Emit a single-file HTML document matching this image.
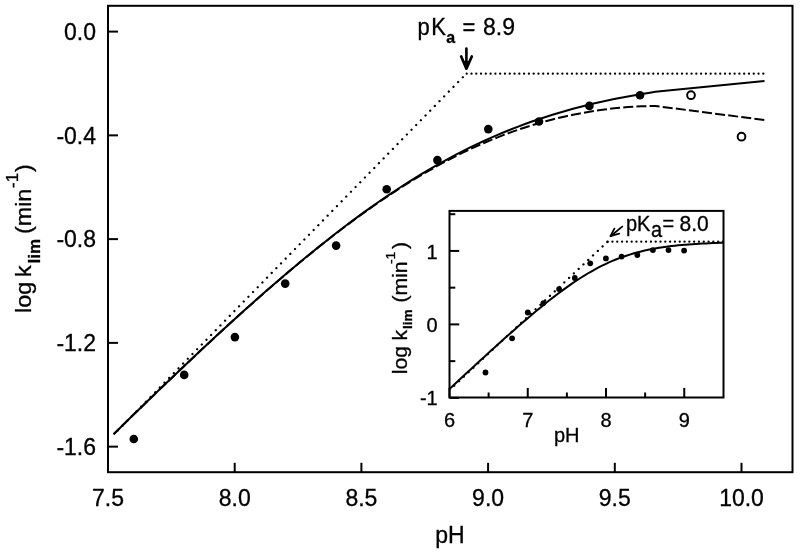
<!DOCTYPE html><html><head><meta charset="utf-8"><style>html,body{margin:0;padding:0;background:#fff;}svg{display:block;filter:grayscale(1) blur(0.3px);}text{font-family:"Liberation Sans",sans-serif;fill:#000;stroke:#000;stroke-width:0.3px;}</style></head><body>
<svg width="800" height="553" viewBox="0 0 800 553">
<rect x="0" y="0" width="800" height="553" fill="#fff"/>
<rect x="108" y="5.8" width="684.5" height="466.4" fill="none" stroke="#000" stroke-width="2"/>
<line x1="108" y1="31.60" x2="118" y2="31.60" stroke="#000" stroke-width="2"/>
<text transform="translate(96.00,39.90) scale(1,1.02)" font-size="23" text-anchor="end">0.0</text>
<line x1="108" y1="135.36" x2="118" y2="135.36" stroke="#000" stroke-width="2"/>
<text transform="translate(96.00,143.66) scale(1,1.02)" font-size="23" text-anchor="end">-0.4</text>
<line x1="108" y1="239.12" x2="118" y2="239.12" stroke="#000" stroke-width="2"/>
<text transform="translate(96.00,247.42) scale(1,1.02)" font-size="23" text-anchor="end">-0.8</text>
<line x1="108" y1="342.88" x2="118" y2="342.88" stroke="#000" stroke-width="2"/>
<text transform="translate(96.00,351.18) scale(1,1.02)" font-size="23" text-anchor="end">-1.2</text>
<line x1="108" y1="446.64" x2="118" y2="446.64" stroke="#000" stroke-width="2"/>
<text transform="translate(96.00,454.94) scale(1,1.02)" font-size="23" text-anchor="end">-1.6</text>
<line x1="108.00" y1="472.2" x2="108.00" y2="462.8" stroke="#000" stroke-width="2"/>
<text transform="translate(108.00,506.00) scale(1,1.02)" font-size="23" text-anchor="middle">7.5</text>
<line x1="234.70" y1="472.2" x2="234.70" y2="462.8" stroke="#000" stroke-width="2"/>
<text transform="translate(234.70,506.00) scale(1,1.02)" font-size="23" text-anchor="middle">8.0</text>
<line x1="361.40" y1="472.2" x2="361.40" y2="462.8" stroke="#000" stroke-width="2"/>
<text transform="translate(361.40,506.00) scale(1,1.02)" font-size="23" text-anchor="middle">8.5</text>
<line x1="488.10" y1="472.2" x2="488.10" y2="462.8" stroke="#000" stroke-width="2"/>
<text transform="translate(488.10,506.00) scale(1,1.02)" font-size="23" text-anchor="middle">9.0</text>
<line x1="614.80" y1="472.2" x2="614.80" y2="462.8" stroke="#000" stroke-width="2"/>
<text transform="translate(614.80,506.00) scale(1,1.02)" font-size="23" text-anchor="middle">9.5</text>
<line x1="741.50" y1="472.2" x2="741.50" y2="462.8" stroke="#000" stroke-width="2"/>
<text transform="translate(741.50,506.00) scale(1,1.02)" font-size="23" text-anchor="middle">10.0</text>
<text transform="translate(450.00,542.80) scale(1,1.02)" font-size="23" text-anchor="middle">pH</text>
<g transform="scale(1,1.06)">
<text transform="translate(31.3,295.28) rotate(-90)" font-size="22">log</text>
<text transform="translate(31.3,261.32) rotate(-90)" font-size="22">k</text>
<text transform="translate(39.8,248.58) rotate(-90)" font-size="16" font-weight="bold">lim</text>
<text transform="translate(31.3,220.75) rotate(-90)" font-size="22">(min</text>
<text transform="translate(17.8,177.36) rotate(-90)" font-size="16">-1</text>
<text transform="translate(31.3,162.26) rotate(-90)" font-size="22">)</text>
</g>
<polyline points="466.30,73.70 113.80,434.55" fill="none" stroke="#000" stroke-width="2.3" stroke-linecap="round" stroke-dasharray="0.01 6.66" stroke-dashoffset="-5.0"/>
<polyline points="466.30,73.70 765.50,73.70" fill="none" stroke="#000" stroke-width="2.3" stroke-linecap="round" stroke-dasharray="0.01 4.774" stroke-dashoffset="-0.4"/>
<polyline points="764.30,120.00 655.34,105.95 648.49,106.08 641.63,106.32 634.77,106.67 627.91,107.12 621.05,107.69 614.20,108.36 607.34,109.15 600.48,110.04 593.62,111.05 586.77,112.16 579.91,113.40 573.05,114.74 566.19,116.20 559.33,117.78 552.48,119.47 545.62,121.28 538.76,123.21 531.90,125.26 525.05,127.43 518.19,129.72 511.33,132.13 504.47,134.66 497.61,137.32 490.76,140.09 483.90,142.99 477.04,146.02 470.18,149.16 463.32,152.43 456.47,155.81 449.61,159.32 442.75,162.95 435.89,166.69 429.04,170.55 422.18,174.53 415.32,178.62 408.46,182.82 401.60,187.13 394.75,191.55 387.89,196.07 381.03,200.70 374.17,205.43 367.31,210.26 360.46,215.18 353.60,220.20 346.74,225.30 339.88,230.50 333.03,235.78 326.17,241.14 319.31,246.58 312.45,252.10 305.59,257.69 298.74,263.35 291.88,269.08 285.02,274.87 278.16,280.73 271.31,286.64 264.45,292.62 257.59,298.65 250.73,304.73 243.87,310.86 237.02,317.04 230.16,323.26 223.30,329.53 216.44,335.84 209.58,342.19 202.73,348.57 195.87,354.99 189.01,361.45 182.15,367.93 175.30,374.45 168.44,380.99 161.58,387.56 154.72,394.16 147.86,400.78 141.01,407.42 134.15,414.09 127.29,420.78 120.43,427.48 113.57,434.20" fill="none" stroke="#000" stroke-width="2" stroke-dasharray="10 3.2" stroke-dashoffset="0"/>
<polyline points="113.57,434.20 120.43,427.48 127.29,420.77 134.15,414.08 141.01,407.42 147.86,400.77 154.72,394.15 161.58,387.55 168.44,380.98 175.30,374.43 182.15,367.91 189.01,361.43 195.87,354.97 202.73,348.55 209.58,342.16 216.44,335.81 223.30,329.50 230.16,323.22 237.02,316.99 243.87,310.81 250.73,304.67 257.59,298.58 264.45,292.55 271.31,286.56 278.16,280.64 285.02,274.77 291.88,268.96 298.74,263.22 305.59,257.54 312.45,251.94 319.31,246.40 326.17,240.94 333.03,235.55 339.88,230.25 346.74,225.03 353.60,219.89 360.46,214.84 367.31,209.87 374.17,205.00 381.03,200.23 387.89,195.55 394.75,190.97 401.60,186.48 408.46,182.10 415.32,177.83 422.18,173.66 429.04,169.59 435.89,165.63 442.75,161.78 449.61,158.04 456.47,154.41 463.32,150.88 470.18,147.47 477.04,144.16 483.90,140.97 490.76,137.88 497.61,134.90 504.47,132.03 511.33,129.26 518.19,126.59 525.05,124.03 531.90,121.56 538.76,119.20 545.62,116.93 552.48,114.76 559.33,112.68 566.19,110.69 573.05,108.79 579.91,106.97 586.77,105.23 593.62,103.58 600.48,102.00 607.34,100.50 614.20,99.07 621.05,97.71 627.91,96.42 634.77,95.19 641.63,94.02 648.49,92.91 655.34,91.86 764.50,81.03" fill="none" stroke="#000" stroke-width="2"/>
<circle cx="133.8" cy="439.0" r="4.3" fill="#000"/>
<circle cx="184.2" cy="374.9" r="4.3" fill="#000"/>
<circle cx="234.9" cy="337.1" r="4.3" fill="#000"/>
<circle cx="285.2" cy="283.6" r="4.3" fill="#000"/>
<circle cx="336.1" cy="245.6" r="4.3" fill="#000"/>
<circle cx="386.7" cy="189.2" r="4.3" fill="#000"/>
<circle cx="437.4" cy="160.1" r="4.3" fill="#000"/>
<circle cx="488.3" cy="129.1" r="4.3" fill="#000"/>
<circle cx="539" cy="121.5" r="4.3" fill="#000"/>
<circle cx="589.4" cy="105.9" r="4.3" fill="#000"/>
<circle cx="640" cy="95.2" r="4.3" fill="#000"/>
<circle cx="691" cy="95.2" r="3.85" fill="#fff" stroke="#000" stroke-width="2"/>
<circle cx="741.5" cy="136.7" r="3.85" fill="#fff" stroke="#000" stroke-width="2"/>
<text transform="translate(417.50,34.60) scale(1,1.06)" font-size="22">p</text>
<text transform="translate(431.20,34.60) scale(1,1.06)" font-size="22">K</text>
<text transform="translate(446.30,43.30) scale(1,1.06)" font-size="16" font-weight="bold">a</text>
<text transform="translate(462.60,34.60) scale(1,1.06)" font-size="22">=</text>
<text transform="translate(483.00,34.60) scale(1,1.06)" font-size="23">8.9</text>
<line x1="466.4" y1="48.6" x2="466.4" y2="67" stroke="#000" stroke-width="2.6" stroke-linecap="round"/>
<polyline points="461.2,56.5 466.4,68.6 471.8,56.5" fill="none" stroke="#000" stroke-width="2.7" stroke-linecap="round" stroke-linejoin="round"/>
<polygon points="463.5,61 466.4,68 469.3,61" fill="#000"/>
<rect x="449.5" y="210.9" width="274" height="186.6" fill="#fff" stroke="#000" stroke-width="2"/>
<line x1="449.5" y1="397.87" x2="459.2" y2="397.87" stroke="#000" stroke-width="2"/>
<text transform="translate(437.70,405.47) scale(1,1.04)" font-size="20" text-anchor="end">-1</text>
<line x1="449.5" y1="324.40" x2="459.2" y2="324.40" stroke="#000" stroke-width="2"/>
<text transform="translate(437.70,332.00) scale(1,1.04)" font-size="20" text-anchor="end">0</text>
<line x1="449.5" y1="250.93" x2="459.2" y2="250.93" stroke="#000" stroke-width="2"/>
<text transform="translate(437.70,258.53) scale(1,1.04)" font-size="20" text-anchor="end">1</text>
<line x1="449.5" y1="361.13" x2="455.3" y2="361.13" stroke="#000" stroke-width="2"/>
<line x1="449.5" y1="287.66" x2="455.3" y2="287.66" stroke="#000" stroke-width="2"/>
<line x1="449.5" y1="214.19" x2="455.3" y2="214.19" stroke="#000" stroke-width="2"/>
<line x1="449.50" y1="397.5" x2="449.50" y2="387.9" stroke="#000" stroke-width="2"/>
<text transform="translate(449.50,426.70) scale(1,1.04)" font-size="20" text-anchor="middle">6</text>
<line x1="527.75" y1="397.5" x2="527.75" y2="387.9" stroke="#000" stroke-width="2"/>
<text transform="translate(527.75,426.70) scale(1,1.04)" font-size="20" text-anchor="middle">7</text>
<line x1="606.00" y1="397.5" x2="606.00" y2="387.9" stroke="#000" stroke-width="2"/>
<text transform="translate(606.00,426.70) scale(1,1.04)" font-size="20" text-anchor="middle">8</text>
<line x1="684.25" y1="397.5" x2="684.25" y2="387.9" stroke="#000" stroke-width="2"/>
<text transform="translate(684.25,426.70) scale(1,1.04)" font-size="20" text-anchor="middle">9</text>
<line x1="488.62" y1="397.5" x2="488.62" y2="392.5" stroke="#000" stroke-width="2"/>
<line x1="566.88" y1="397.5" x2="566.88" y2="392.5" stroke="#000" stroke-width="2"/>
<line x1="645.12" y1="397.5" x2="645.12" y2="392.5" stroke="#000" stroke-width="2"/>
<text transform="translate(566.70,441.50) scale(1,1.04)" font-size="20" text-anchor="middle">pH</text>
<g transform="scale(1,1.06)">
<text transform="translate(406.6,353.11) rotate(-90)" font-size="20">log</text>
<text transform="translate(406.6,321.23) rotate(-90)" font-size="20">k</text>
<text transform="translate(412.1,310.47) rotate(-90)" font-size="13" font-weight="bold">lim</text>
<text transform="translate(406.6,285.47) rotate(-90)" font-size="20">(min</text>
<text transform="translate(395.20000000000005,249.06) rotate(-90)" font-size="13">-1</text>
<text transform="translate(406.6,234.91) rotate(-90)" font-size="20">)</text>
</g>
<polyline points="607.60,241.70 449.50,390.16" fill="none" stroke="#000" stroke-width="2.3" stroke-linecap="round" stroke-dasharray="0.01 6.555" stroke-dashoffset="-0.3"/>
<polyline points="607.60,241.70 723.50,241.70" fill="none" stroke="#000" stroke-width="2.3" stroke-linecap="round" stroke-dasharray="0.01 4.795" stroke-dashoffset="-0.05"/>
<polyline points="449.50,388.91 452.97,385.69 456.43,382.47 459.90,379.26 463.37,376.05 466.83,372.84 470.30,369.65 473.77,366.45 477.23,363.27 480.70,360.09 484.17,356.92 487.63,353.75 491.10,350.60 494.57,347.46 498.03,344.33 501.50,341.21 504.97,338.11 508.44,335.02 511.90,331.95 515.37,328.90 518.84,325.86 522.30,322.85 525.77,319.87 529.24,316.91 532.70,313.97 536.17,311.07 539.64,308.21 543.10,305.38 546.57,302.58 550.04,299.83 553.50,297.13 556.97,294.47 560.44,291.87 563.90,289.32 567.37,286.83 570.84,284.39 574.30,282.03 577.77,279.73 581.24,277.50 584.70,275.34 588.17,273.26 591.64,271.26 595.10,269.33 598.57,267.49 602.04,265.73 605.50,264.05 608.97,262.46 612.44,260.94 615.91,259.51 619.37,258.16 622.84,256.90 626.31,255.70 629.77,254.59 633.24,253.55 636.71,252.58 640.17,251.67 643.64,250.84 647.11,250.06 650.57,249.34 654.04,248.68 657.51,248.07 660.97,247.51 664.44,247.00 667.91,246.52 671.37,246.09 674.84,245.69 678.31,245.33 681.77,245.00 685.24,244.70 688.71,244.43 692.17,244.18 695.64,243.95 699.11,243.74 702.57,243.56 706.04,243.39 709.51,243.23 712.97,243.09 716.44,242.96 719.91,242.85 723.38,242.74" fill="none" stroke="#000" stroke-width="2"/>
<circle cx="485.5" cy="372.5" r="2.9" fill="#000"/>
<circle cx="512.1" cy="338.3" r="2.9" fill="#000"/>
<circle cx="527.8" cy="312.5" r="2.9" fill="#000"/>
<circle cx="543.4" cy="303.1" r="2.9" fill="#000"/>
<circle cx="559.1" cy="289.1" r="2.9" fill="#000"/>
<circle cx="574.8" cy="278.0" r="2.9" fill="#000"/>
<circle cx="590.2" cy="263.3" r="2.9" fill="#000"/>
<circle cx="605.9" cy="258.4" r="2.9" fill="#000"/>
<circle cx="621.6" cy="256.6" r="2.9" fill="#000"/>
<circle cx="637.3" cy="255.0" r="2.9" fill="#000"/>
<circle cx="652.9" cy="250.1" r="2.9" fill="#000"/>
<circle cx="668.5" cy="250.1" r="2.9" fill="#000"/>
<circle cx="684.1" cy="250.6" r="2.9" fill="#000"/>
<text transform="translate(626.00,231.00) scale(1,1.06)" font-size="20">p</text>
<text transform="translate(637.00,231.00) scale(1,1.06)" font-size="20">K</text>
<text transform="translate(651.00,236.50) scale(1,1.06)" font-size="20" font-weight="normal">a</text>
<text transform="translate(662.50,231.00) scale(1,1.06)" font-size="20">=</text>
<text transform="translate(679.50,231.00) scale(1,1.06)" font-size="21">8.0</text>
<line x1="622.8" y1="226.1" x2="610.5" y2="236.2" stroke="#000" stroke-width="1.8"/>
<polyline points="614.4,228.6 610.4,236.1 619.2,233.6" fill="none" stroke="#000" stroke-width="1.8" stroke-linecap="round" stroke-linejoin="round"/>
</svg></body></html>
